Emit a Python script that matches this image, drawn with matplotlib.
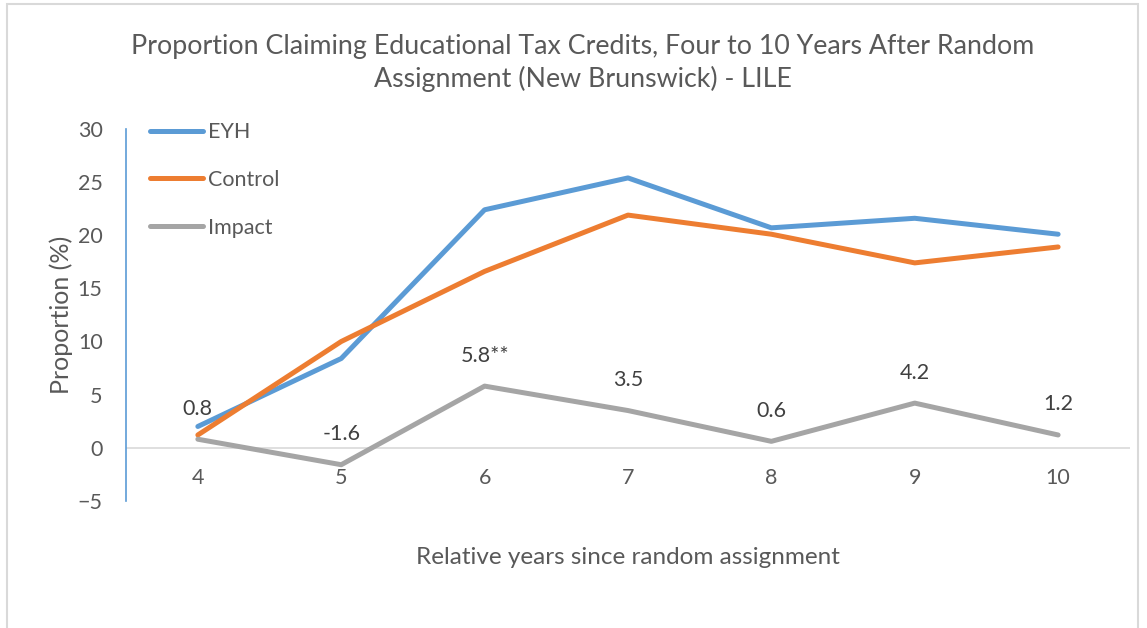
import matplotlib.pyplot as plt
from matplotlib.patches import Rectangle

years = [4, 5, 6, 7, 8, 9, 10]
eyh = [2.0, 8.4, 22.4, 25.4, 20.7, 21.6, 20.1]
control = [1.2, 10.0, 16.6, 21.9, 20.1, 17.4, 18.9]
impact = [0.8, -1.6, 5.8, 3.5, 0.6, 4.2, 1.2]
impact_labels = ['0.8', '-1.6', '5.8**', '3.5', '0.6', '4.2', '1.2']

plt.rcParams['font.family'] = ['Lato', 'DejaVu Sans']
txt = '#595959'

fig = plt.figure(figsize=(11.47, 6.28), dpi=100)
ax = fig.add_axes([0.110, 0.2025, 0.875, 0.592])

x = list(range(len(years)))
ax.axhline(0, color='#d9d9d9', linewidth=1.2, zorder=1)
ax.plot(x, eyh, color='#5b9bd5', linewidth=3.6, solid_capstyle='round', label='EYH', zorder=3)
ax.plot(x, control, color='#ed7d31', linewidth=3.6, solid_capstyle='round', label='Control', zorder=3)
ax.plot(x, impact, color='#a5a5a5', linewidth=3.6, solid_capstyle='round', label='Impact', zorder=3)

for xi, v, lab in zip(x, impact, impact_labels):
    ax.annotate(lab, (xi, v), xytext=(0, 22), textcoords='offset points',
                ha='center', va='center', fontsize=15.5, color='#404040')

ax.set_xlim(-0.5, len(years) - 0.5)
ax.set_ylim(-5, 30)
ax.set_yticks(range(-5, 31, 5))
ax.set_xticks([])
for xi, yr in zip(x, years):
    ax.text(xi, -2.85, str(yr), ha='center', va='center', fontsize=15.5, color=txt)

for s in ['top', 'right', 'bottom']:
    ax.spines[s].set_visible(False)
ax.spines['left'].set_color('#5b9bd5')
ax.spines['left'].set_linewidth(1.2)
ax.tick_params(axis='y', length=0, labelsize=15.5, labelcolor=txt, pad=17)

ax.set_ylabel('Proportion (%)', fontsize=18, color=txt, labelpad=3)
ax.set_xlabel('Relative years since random assignment', fontsize=17.5, color=txt, labelpad=33)

fig.text(0.508, 0.9, 'Proportion Claiming Educational Tax Credits, Four to 10 Years After Random\nAssignment (New Brunswick) - LILE',
         ha='center', va='center', fontsize=19.3, color=txt, linespacing=1.35)

leg = ax.legend(loc='upper left', bbox_to_anchor=(0.004, 1.07), frameon=False, fontsize=15.5,
                handlelength=2.5, handletextpad=0.2, labelspacing=1.28, borderaxespad=0.5)
for t in leg.get_texts():
    t.set_color(txt)

fig.patches.append(Rectangle((7 / 1147, -0.05), 1131 / 1147, 1.05 - 4 / 628, transform=fig.transFigure,
                             fill=False, edgecolor='#d9d9d9', linewidth=1.5))

fig.savefig('out.png', dpi=100)
